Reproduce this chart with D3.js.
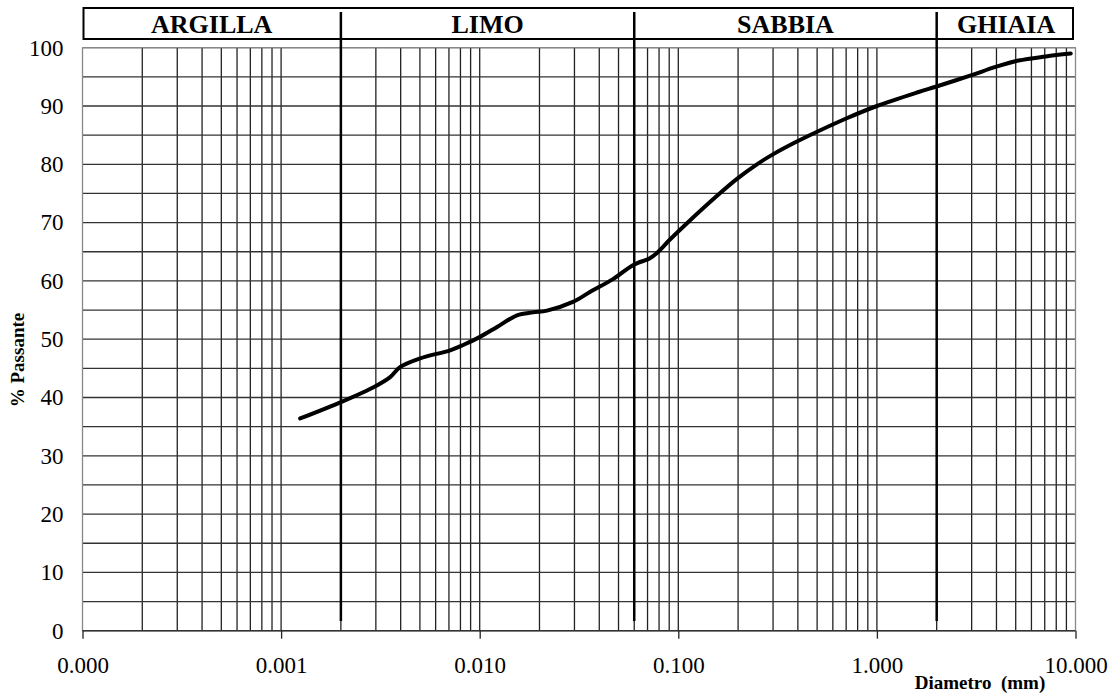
<!DOCTYPE html>
<html><head><meta charset="utf-8">
<script src="https://cdn.jsdelivr.net/npm/d3@7"></script>
<style>body{margin:0;background:#fff}svg{display:block}</style>
</head><body>
<script>
// ---- data ----
const diameters = [0.001247,0.002028,0.00297,0.00354,0.00397,0.00501,0.00710,0.00825,0.01004,0.01223,0.01541,0.01854,0.02181,0.02947,0.03589,0.04688,0.0591,0.0720,0.0781,0.0908,0.1106,0.1567,0.1974,0.2489,0.2995,0.3954,0.5156,0.7050,1.0,1.623,1.977,3.00,3.96,5.17,7.08,9.46];
const passing   = [36.4,39.3,41.9,43.5,45.2,46.7,48.1,49.0,50.4,52.1,54.1,54.6,54.9,56.4,58.1,60.3,62.7,63.9,64.8,67.1,69.9,74.6,77.5,80.0,81.7,83.9,85.8,87.9,90.0,92.4,93.3,95.3,96.7,97.8,98.5,99.0];
const classNames = ["ARGILLA","LIMO","SABBIA","GHIAIA"];
const classBounds = [0.0001,0.002,0.06,2,10];
const xTickValues = [0.0001,0.001,0.01,0.1,1,10];
const xTickLabels = ["0.000","0.001","0.010","0.100","1.000","10.000"];
const yTickValues = [0,10,20,30,40,50,60,70,80,90,100];
const yGridValues = d3.range(0,101,5);

const W=1114,H=695;
const L=82.5,R=1075.5,T=47.7,B=630.7;
const svg=d3.select("body").append("svg").attr("width",W).attr("height",H);
const x=d3.scaleLog().domain([0.0001,10]).range([L,R]);
const y=d3.scaleLinear().domain([0,100]).range([B,T]);

// minor vertical grid
const vGrid=[];
for(let e=-4;e<1;e++){for(let m=1;m<=9;m++){vGrid.push(m*Math.pow(10,e));}}
const g=svg.append("g");
g.selectAll("line.v").data(vGrid.filter((d,i)=>i>0)).join("line")
 .attr("x1",d=>x(d)).attr("x2",d=>x(d)).attr("y1",T).attr("y2",B)
 .attr("stroke","#222").attr("stroke-width",1.3);
g.selectAll("line.h").data(yGridValues).join("line")
 .attr("x1",L).attr("x2",R).attr("y1",d=>y(d)).attr("y2",d=>y(d))
 .attr("stroke","#333").attr("stroke-width",1.3);
// frame
g.append("line").attr("x1",L).attr("x2",L).attr("y1",T).attr("y2",B).attr("stroke","#888").attr("stroke-width",1.3);
g.append("line").attr("x1",R).attr("x2",R).attr("y1",T).attr("y2",B).attr("stroke","#888").attr("stroke-width",1.3);
g.append("line").attr("x1",L).attr("x2",R).attr("y1",T).attr("y2",T).attr("stroke","#888").attr("stroke-width",1.3);
g.append("line").attr("x1",L).attr("x2",R).attr("y1",B).attr("y2",B).attr("stroke","#333").attr("stroke-width",1.5);

// x axis ticks
const xAxis=d3.axisBottom(x).tickValues(xTickValues).tickFormat((d,i)=>xTickLabels[i]).tickSize(8).tickSizeOuter(0);
const xa=svg.append("g").attr("transform",`translate(0,${B})`).call(xAxis);
xa.select(".domain").remove();
xa.selectAll(".tick line").attr("stroke","#222").attr("stroke-width",1.3);
xa.selectAll("text").attr("font-family","Liberation Serif").attr("font-size",23).attr("fill","#000").attr("y",0).attr("dy",0).attr("transform","translate(0,42)");

// y axis labels
const yAxis=d3.axisLeft(y).tickValues(yTickValues).tickSize(0);
const ya=svg.append("g").attr("transform",`translate(${L-8},0)`).call(yAxis);
ya.select(".domain").remove();
ya.selectAll("text").attr("font-family","Liberation Serif").attr("font-size",23).attr("fill","#000").attr("dy","0.32em").attr("x",-11);

// header box
svg.append("rect").attr("x",L+1).attr("y",8).attr("width",x(10)-L-3.5).attr("height",31)
 .attr("fill","none").attr("stroke","#000").attr("stroke-width",2);
svg.selectAll("text.cls").data(classNames).join("text")
 .attr("x",(d,i)=>(x(classBounds[i])+x(classBounds[i+1]))/2)
 .attr("y",33).attr("text-anchor","middle")
 .attr("font-family","Liberation Serif").attr("font-weight","bold").attr("font-size",26).text(d=>d);

// class divider lines
svg.selectAll("line.div").data(classBounds.slice(1,4)).join("line")
 .attr("x1",d=>x(d)).attr("x2",d=>x(d)).attr("y1",12).attr("y2",621)
 .attr("stroke","#000").attr("stroke-width",2.5);

// curve
const pts=diameters.map((d,i)=>[d,passing[i]]);
svg.append("path").datum(pts)
 .attr("d",d3.line().x(d=>x(d[0])).y(d=>y(d[1])).curve(d3.curveCatmullRom.alpha(0.5)))
 .attr("fill","none").attr("stroke","#000").attr("stroke-width",4).attr("stroke-linecap","round");

// axis titles
svg.append("text").attr("x",980).attr("y",689).attr("text-anchor","middle")
 .attr("font-family","Liberation Serif").attr("font-weight","bold").attr("font-size",19)
 .attr("xml:space","preserve").text("Diametro  (mm)");
svg.append("text").attr("transform","translate(24,360) rotate(-90)").attr("text-anchor","middle")
 .attr("font-family","Liberation Serif").attr("font-weight","bold").attr("font-size",19).text("% Passante");
</script>
</body></html>
